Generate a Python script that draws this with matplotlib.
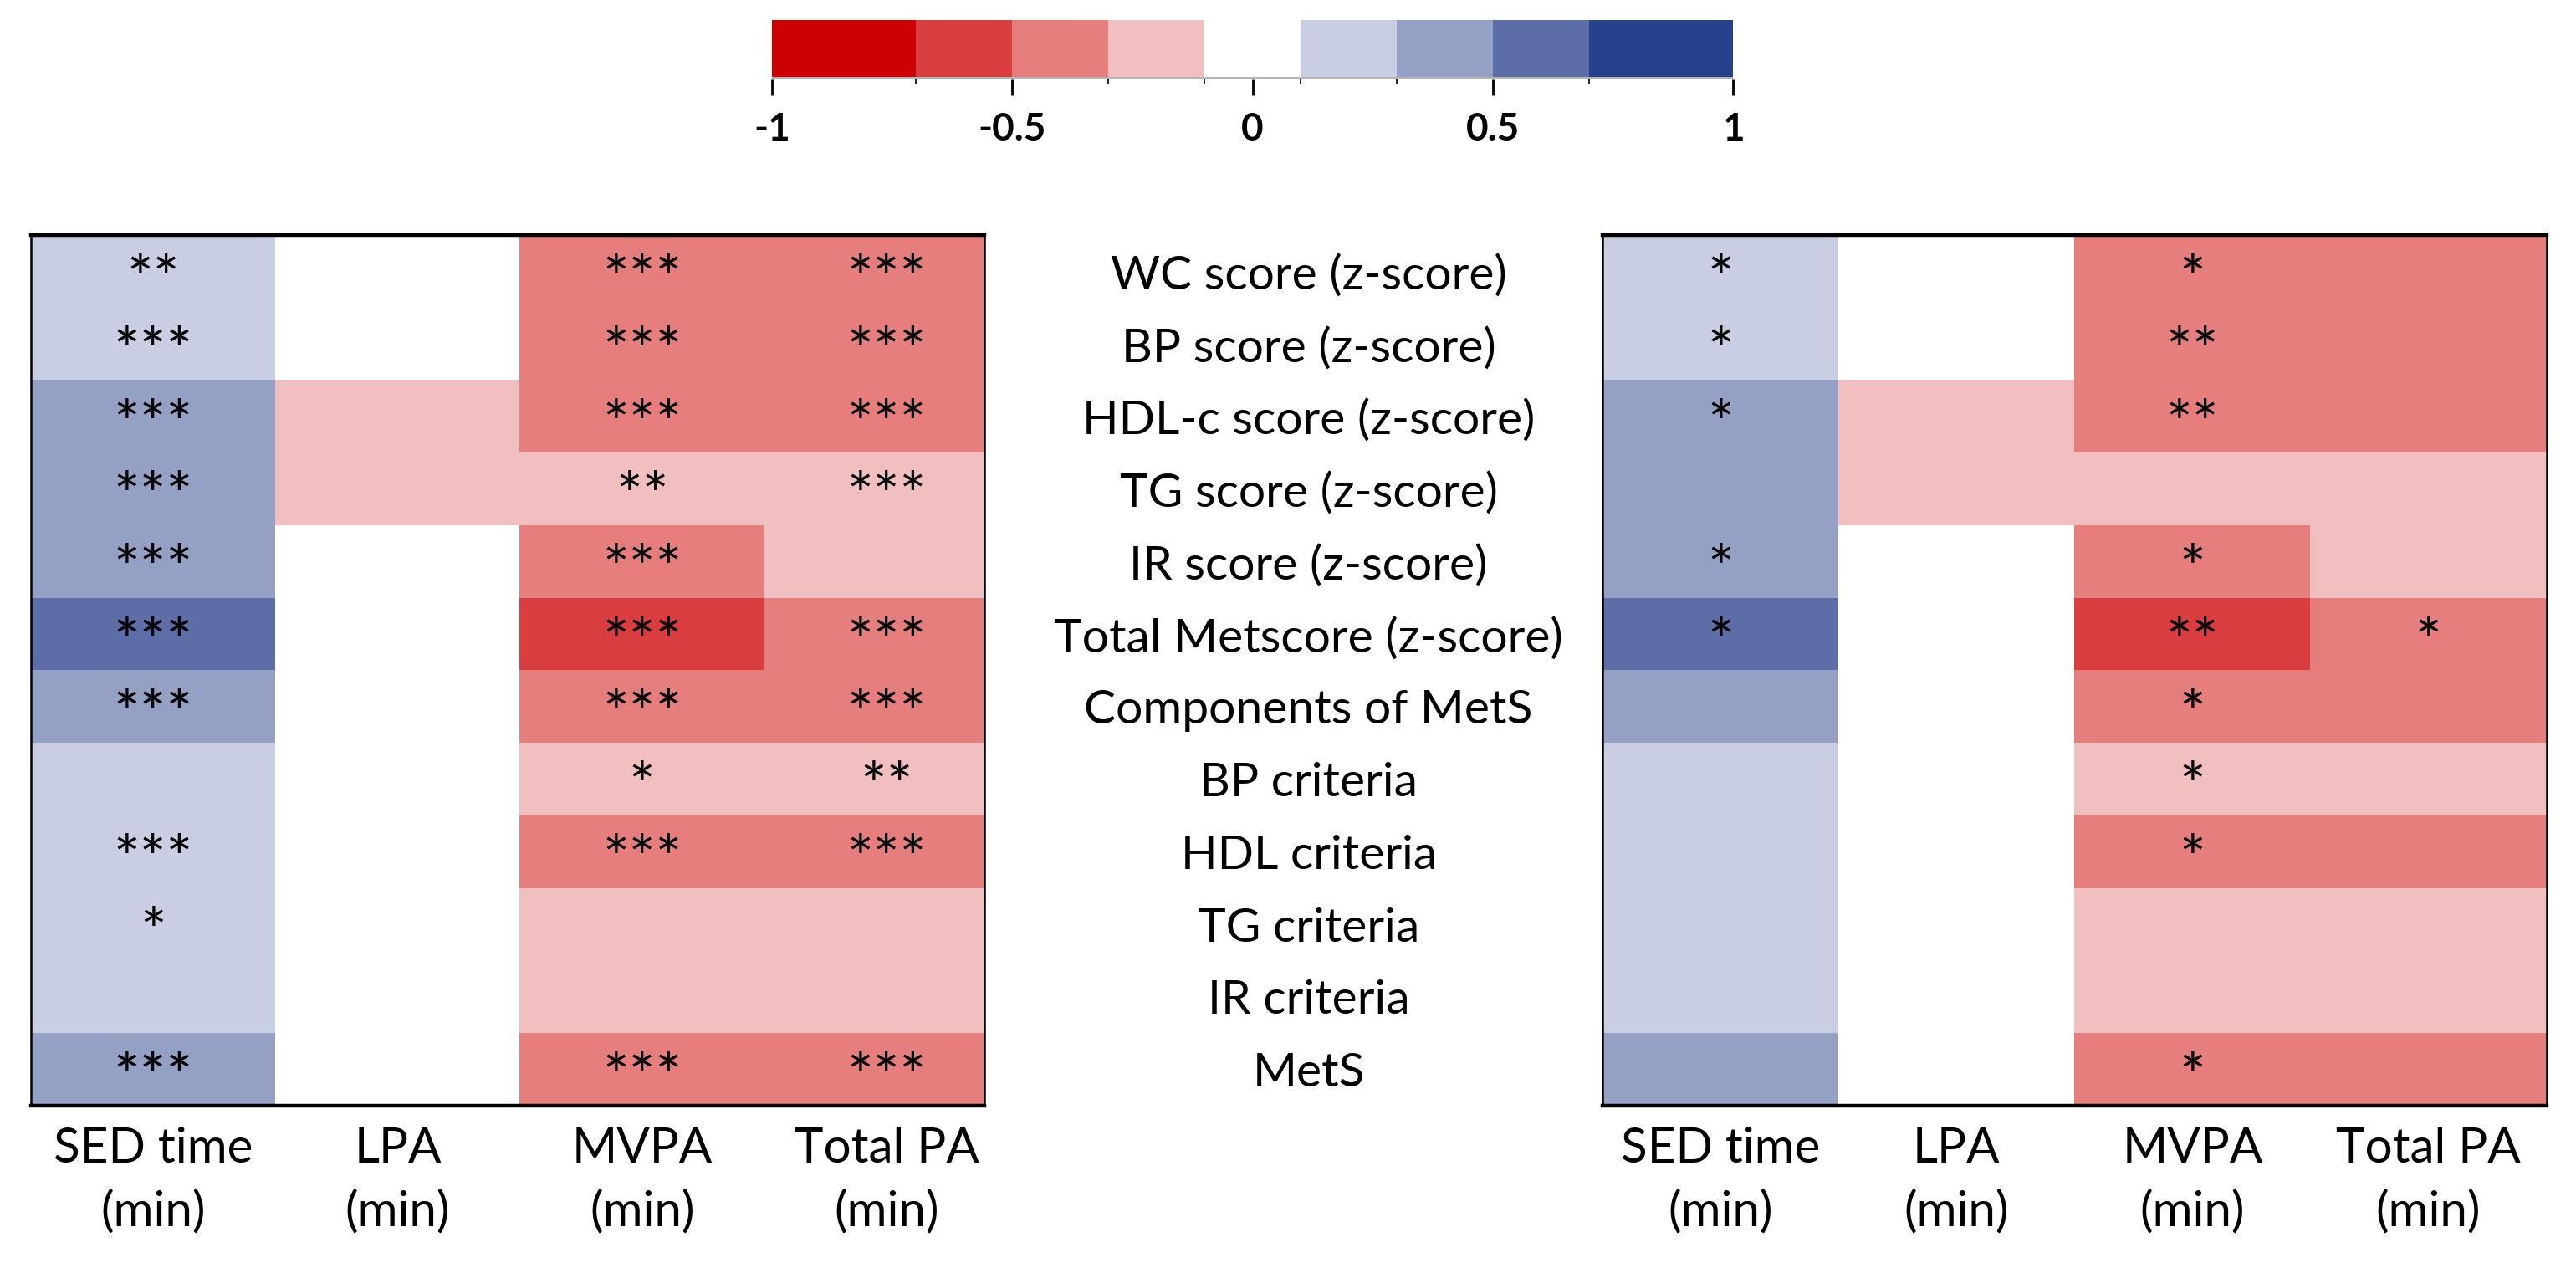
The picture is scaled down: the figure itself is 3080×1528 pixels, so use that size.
import numpy as np
import matplotlib
matplotlib.use('Agg')
import matplotlib.pyplot as plt
import matplotlib.transforms as mtransforms
from matplotlib.colors import ListedColormap, BoundaryNorm
from matplotlib.cm import ScalarMappable

plt.rcParams['font.family'] = ['Lato', 'DejaVu Sans']

# Datos
filas = ['WC score (z-score)', 'BP score (z-score)', 'HDL-c score (z-score)',
         'TG score (z-score)', 'IR score (z-score)', 'Total Metscore (z-score)',
         'Components of MetS', 'BP criteria', 'HDL criteria', 'TG criteria',
         'IR criteria', 'MetS']
columnas = ['SED time\n(min)', 'LPA\n(min)', 'MVPA\n(min)', 'Total PA\n(min)']

# correlaciones aproximadas (leidas por el color), columnas: SED, LPA, MVPA, Total PA
r_izq_sed = [0.2, 0.2, 0.4, 0.4, 0.4, 0.6, 0.4, 0.2, 0.2, 0.2, 0.2, 0.4]
r_izq_lpa = [0, 0, -0.2, -0.2, 0, 0, 0, 0, 0, 0, 0, 0]
r_izq_mvpa = [-0.4, -0.4, -0.4, -0.2, -0.4, -0.6, -0.4, -0.2, -0.4, -0.2, -0.2, -0.4]
r_izq_total = [-0.4, -0.4, -0.4, -0.2, -0.2, -0.4, -0.4, -0.2, -0.4, -0.2, -0.2, -0.4]

r_der_sed = [0.2, 0.2, 0.4, 0.4, 0.4, 0.6, 0.4, 0.2, 0.2, 0.2, 0.2, 0.4]
r_der_lpa = [0, 0, -0.2, -0.2, 0, 0, 0, 0, 0, 0, 0, 0]
r_der_mvpa = [-0.4, -0.4, -0.4, -0.2, -0.4, -0.6, -0.4, -0.2, -0.4, -0.2, -0.2, -0.4]
r_der_total = [-0.4, -0.4, -0.4, -0.2, -0.2, -0.4, -0.4, -0.2, -0.4, -0.2, -0.2, -0.4]

# significancia
sig_izq_sed = ['**', '***', '***', '***', '***', '***', '***', '', '***', '*', '', '***']
sig_izq_lpa = [''] * 12
sig_izq_mvpa = ['***', '***', '***', '**', '***', '***', '***', '*', '***', '', '', '***']
sig_izq_total = ['***', '***', '***', '***', '', '***', '***', '**', '***', '', '', '***']

sig_der_sed = ['*', '*', '*', '', '*', '*', '', '', '', '', '', '']
sig_der_lpa = [''] * 12
sig_der_mvpa = ['*', '**', '**', '', '*', '**', '*', '*', '*', '', '', '*']
sig_der_total = ['', '', '', '', '', '*', '', '', '', '', '', '']

# escala de colores
limites = [-1, -0.7, -0.5, -0.3, -0.1, 0.1, 0.3, 0.5, 0.7, 1]
colores = ['#CC0000', '#D93D3F', '#E67E7E', '#F1BFBF', '#FFFFFF',
           '#C9CEE3', '#94A1C5', '#5D6DA8', '#27418C']
ticks_cb = [-1, -0.5, 0, 0.5, 1]
etiquetas_cb = ['-1', '-0.5', '0', '0.5', '1']

cmap = ListedColormap(colores)
norm = BoundaryNorm(limites, cmap.N)

fig = plt.figure(figsize=(15.4, 7.64), dpi=200)

ax1 = fig.add_axes([0.0121, 0.135, 0.370, 0.681])
ax2 = fig.add_axes([0.622, 0.135, 0.3665, 0.681])


def dibujar(ax, r, sig, x_max):
    matriz = np.array(r).T
    ax.imshow(matriz, cmap=cmap, norm=norm, aspect='auto', interpolation='nearest')
    for j, col in enumerate(sig):
        for i, s in enumerate(col):
            if s:
                ax.text(j, i + 0.40, s, ha='center', va='baseline', fontsize=27,
                        color='black')
    ax.set_xlim(-0.5, x_max)
    ax.set_ylim(len(filas) - 0.5, -0.5)
    ax.set_yticks([])
    ax.set_xticks(range(len(columnas)))
    ax.set_xticklabels(columnas, fontsize=21, linespacing=1.5)
    ax.tick_params(axis='x', length=0, pad=9)
    for lado in ['top', 'bottom']:
        ax.spines[lado].set_linewidth(1.6)
    for lado in ['left', 'right']:
        ax.spines[lado].set_linewidth(0.9)


dibujar(ax1, [r_izq_sed, r_izq_lpa, r_izq_mvpa, r_izq_total],
        [sig_izq_sed, sig_izq_lpa, sig_izq_mvpa, sig_izq_total], 3.4)
dibujar(ax2, [r_der_sed, r_der_lpa, r_der_mvpa, r_der_total],
        [sig_der_sed, sig_der_lpa, sig_der_mvpa, sig_der_total], 3.5)

# nombres de las filas en el centro
trans = mtransforms.blended_transform_factory(fig.transFigure, ax1.transData)
for i, nombre in enumerate(filas):
    fig.text(0.508, i + 0.06, nombre, transform=trans, ha='center', va='center', fontsize=20.5)

# barra de colores
cax = fig.add_axes([0.2997, 0.938, 0.3731, 0.0466])
cb = fig.colorbar(ScalarMappable(norm=norm, cmap=cmap), cax=cax, orientation='horizontal',
                  ticks=ticks_cb, spacing='proportional')
cb.outline.set_visible(False)
cax.axhline(0, color='#B5B5B5', lw=2.5)
cax.set_xticklabels(etiquetas_cb, fontsize=16.5, fontweight='bold')
cax.tick_params(axis='x', length=7, width=1, color='black', pad=7)

fig.savefig('out.png', dpi=200)
